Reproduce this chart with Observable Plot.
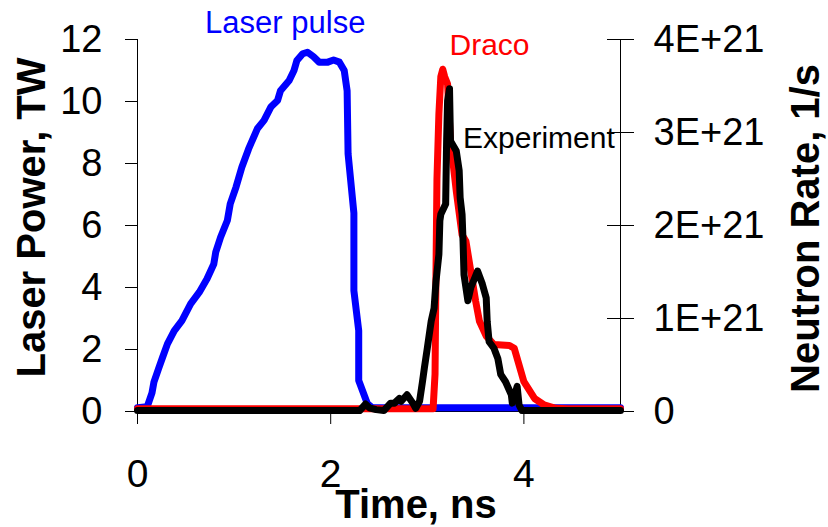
<!DOCTYPE html>
<html><head><meta charset="utf-8">
<script src="https://cdn.jsdelivr.net/npm/d3@7"></script>
<script src="https://cdn.jsdelivr.net/npm/@observablehq/plot@0.6"></script>
<style>body{margin:0;background:#fff}</style>
</head><body><div id="chart"></div>
<script>
// Laser pulse (left axis, TW)
const laserTime = [0, 0.1, 0.15, 0.17, 0.22, 0.26, 0.31, 0.38, 0.46, 0.55, 0.64, 0.72, 0.79, 0.81, 0.86, 0.93, 0.96, 1.02, 1.08, 1.15, 1.24, 1.31, 1.38, 1.45, 1.48, 1.57, 1.62, 1.65, 1.71, 1.76, 1.82, 1.88, 1.97, 2.03, 2.09, 2.14, 2.17, 2.18, 2.24, 2.24, 2.29, 2.29, 2.38, 2.43, 5.0];
const laserPower = [0.12, 0.15, 0.6, 0.95, 1.4, 1.75, 2.18, 2.6, 2.93, 3.47, 3.85, 4.28, 4.76, 5.14, 5.62, 6.16, 6.7, 7.24, 7.88, 8.47, 9.12, 9.39, 9.82, 10.03, 10.35, 10.68, 11.0, 11.32, 11.54, 11.59, 11.45, 11.27, 11.27, 11.34, 11.27, 11.0, 10.35, 8.31, 6.4, 3.9, 2.61, 1.0, 0.25, 0.12, 0.12];

// Draco simulation (right axis, neutrons/s)
const dracoTime = [0, 3.06, 3.08, 3.09, 3.10, 3.12, 3.14, 3.16, 3.18, 3.21, 3.24, 3.30, 3.36, 3.40, 3.45, 3.50, 3.54, 3.61, 3.69, 3.85, 3.90, 3.95, 4.00, 4.11, 4.21, 4.33, 4.45, 5.0];
const dracoRate = [0.03e21, 0.03e21, 0.4e21, 1.5e21, 2.5e21, 3.2e21, 3.6e21, 3.68e21, 3.6e21, 3.52e21, 2.91e21, 2.37e21, 1.9e21, 1.83e21, 1.51e21, 1.19e21, 0.97e21, 0.81e21, 0.72e21, 0.71e21, 0.68e21, 0.50e21, 0.32e21, 0.14e21, 0.07e21, 0.035e21, 0.03e21, 0.03e21];

// Experiment (right axis, neutrons/s)
const expTime = [0, 2.30, 2.36, 2.40, 2.47, 2.55, 2.62, 2.66, 2.71, 2.73, 2.79, 2.85, 2.88, 2.92, 2.95, 2.97, 3.00, 3.04, 3.07, 3.09, 3.12, 3.13, 3.14, 3.19, 3.20, 3.21, 3.23, 3.24, 3.30, 3.33, 3.34, 3.36, 3.37, 3.38, 3.42, 3.45, 3.52, 3.57, 3.61, 3.62, 3.64, 3.69, 3.73, 3.76, 3.81, 3.87, 3.88, 3.93, 3.95, 3.98, 5.0];
const expRate = [0.01e21, 0.01e21, 0.08e21, 0.04e21, 0.02e21, 0.01e21, 0.09e21, 0.09e21, 0.14e21, 0.11e21, 0.18e21, 0.09e21, 0.035e21, 0.11e21, 0.32e21, 0.47e21, 0.68e21, 0.97e21, 1.11e21, 1.40e21, 1.69e21, 2.05e21, 2.12e21, 2.23e21, 2.91e21, 3.34e21, 3.47e21, 2.91e21, 2.80e21, 2.59e21, 2.30e21, 2.12e21, 1.83e21, 1.47e21, 1.19e21, 1.33e21, 1.51e21, 1.37e21, 1.22e21, 0.97e21, 0.75e21, 0.68e21, 0.57e21, 0.40e21, 0.32e21, 0.18e21, 0.09e21, 0.27e21, 0.07e21, 0.01e21, 0.01e21];

// Axes
const xTicks = [0, 2, 4];
const leftTicks = [0, 2, 4, 6, 8, 10, 12];
const rightTickValues = [0, 1e21, 2e21, 3e21, 4e21];
const rightTickLabels = ["0", "1E+21", "2E+21", "3E+21", "4E+21"];
const leftMax = 12, rightMax = 4e21;

// Annotations (data coordinates of label anchors)
const annLabels = ["Laser pulse", "Draco", "Experiment"];
const annTime = [0.70, 3.23, 3.37];
const annValue = [12.54, 11.81, 8.80];
const annColors = ["#0000ff", "#ff0000", "#000000"];

const toLeft = v => v / rightMax * leftMax;
const laser = laserTime.map((t, i) => ({t, v: laserPower[i]}));
const draco = dracoTime.map((t, i) => ({t, v: toLeft(dracoRate[i])}));
const exp = expTime.map((t, i) => ({t, v: toLeft(expRate[i])}));
const rightTW = rightTickValues.map(toLeft);

const font = "'Liberation Sans', Arial, Helvetica, sans-serif";

const chart = Plot.plot({
  width: 828, height: 527,
  marginLeft: 137, marginRight: 208, marginTop: 39, marginBottom: 116,
  style: {fontFamily: font, background: "#fff", color: "#000"},
  x: {domain: [0, 5]},
  y: {domain: [0, leftMax]},
  marks: [
    Plot.ruleY([0], {stroke: "#000", strokeWidth: 1}),
    Plot.ruleX([0], {stroke: "#000", strokeWidth: 1}),
    Plot.ruleX([5], {stroke: "#000", strokeWidth: 1}),
    Plot.axisX(xTicks, {tickSize: 13, tickPadding: 35, fontSize: 39, label: null, tickFormat: d => String(d)}),
    Plot.axisY(leftTicks, {anchor: "left", tickSize: 12, tickPadding: 23, fontSize: 38, label: null, tickFormat: d => String(d)}),
    Plot.axisY(rightTW, {anchor: "right", tickSize: 27, dx: -14, tickPadding: 20, fontSize: 38, label: null,
      tickFormat: d => rightTickLabels[rightTW.indexOf(d)]}),
    Plot.line(laser, {x: "t", y: "v", stroke: "#0000ff", strokeWidth: 7, strokeLinejoin: "round", strokeLinecap: "round"}),
    Plot.line(draco, {x: "t", y: "v", stroke: "#ff0000", strokeWidth: 7, strokeLinejoin: "round", strokeLinecap: "round"}),
    Plot.line(exp, {x: "t", y: "v", stroke: "#000000", strokeWidth: 7, strokeLinejoin: "round", strokeLinecap: "round"}),
    ...annLabels.map((lab, i) => Plot.text([lab], {x: () => annTime[i], y: () => annValue[i], text: d => d,
      textAnchor: "start", lineAnchor: "middle", fontSize: i === 0 ? 31 : 30, fill: annColors[i]})),
    Plot.text(["Laser Power, TW"], {frameAnchor: "left", rotate: -90, dx: -105, dy: -8, fontSize: 40, fontWeight: "bold", textAnchor: "middle", lineAnchor: "middle", fill: "#000"}),
    Plot.text(["Neutron Rate, 1/s"], {frameAnchor: "right", rotate: -90, dx: 186, dy: 3, fontSize: 40, fontWeight: "bold", textAnchor: "middle", lineAnchor: "middle", fill: "#000"}),
    Plot.text(["Time, ns"], {frameAnchor: "bottom", dx: 37, dy: 94, fontSize: 40, fontWeight: "bold", textAnchor: "middle", lineAnchor: "middle", fill: "#000"})
  ]
});
document.getElementById("chart").appendChild(chart);
</script>
</body></html>
